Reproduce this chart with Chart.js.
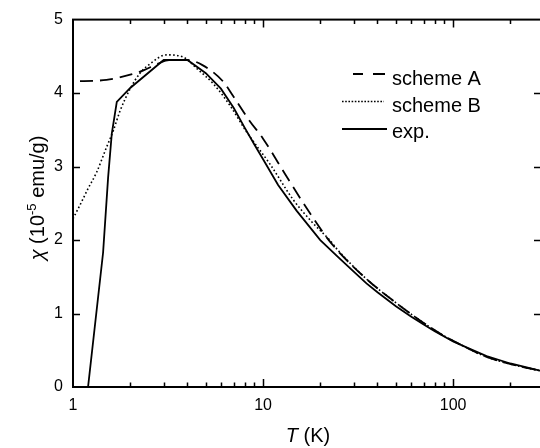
<!DOCTYPE html>
<html>
<head>
<meta charset="utf-8">
<script src="https://cdn.jsdelivr.net/npm/chart.js@4/dist/chart.umd.min.js"></script>
<style>
html,body{margin:0;padding:0;background:#fff;overflow:hidden;}
#wrap{width:542px;height:448px;}
</style>
</head>
<body>
<div id="wrap"><canvas id="c" width="542" height="448"></canvas></div>
<script>
// ---- data (temperature in K, susceptibility in 1e-5 emu/g) ----
const tA   = [1, 1.5, 2, 2.35, 2.8, 3.2, 4, 4.8, 6.15, 7, 8.5, 10, 13.4, 17.7, 21.7, 25, 35, 47, 65, 85, 105, 150, 225, 290];
const chiA = [4.16, 4.18, 4.25, 4.31, 4.40, 4.45, 4.45, 4.38, 4.16, 3.95, 3.62, 3.38, 2.85, 2.36, 2.03, 1.84, 1.47, 1.20, 0.93, 0.73, 0.60, 0.41, 0.28, 0.22];

const tB   = [1, 1.1, 1.2, 1.33, 1.5, 1.63, 1.77, 2, 2.25, 2.55, 3.1, 3.8, 4.5, 5.5, 6.7, 8.2, 10.9, 14.4, 18.3, 22.4, 25, 35, 47, 65, 85, 105, 150, 225, 290];
const chiB = [2.29, 2.50, 2.70, 2.92, 3.26, 3.49, 3.76, 4.06, 4.27, 4.40, 4.52, 4.49, 4.33, 4.12, 3.83, 3.47, 3.03, 2.55, 2.23, 2.00, 1.85, 1.47, 1.20, 0.93, 0.73, 0.60, 0.41, 0.28, 0.22];

const tE   = [1.2, 1.44, 1.53, 1.6, 1.7, 2.0, 3.0, 4.0, 5.0, 6.0, 7.0, 8.0, 9.0, 10, 12, 15, 20, 25, 30, 35, 40, 50, 60, 70, 80, 100, 120, 150, 200, 250, 290];
const chiE = [0, 1.83, 2.85, 3.45, 3.88, 4.07, 4.45, 4.45, 4.27, 4.06, 3.80, 3.53, 3.30, 3.10, 2.75, 2.40, 2.00, 1.76, 1.57, 1.41, 1.29, 1.10, 0.96, 0.85, 0.76, 0.62, 0.53, 0.42, 0.32, 0.26, 0.22];

const seriesNames = ['scheme A', 'scheme B', 'exp.'];
const xTickLabels = [1, 10, 100];
const yTickLabels = [0, 1, 2, 3, 4, 5];
const xMin = 1, xMax = 290, yMin = 0, yMax = 5;

const pts = (xs, ys) => xs.map((x, i) => ({x: x, y: ys[i]}));
const FONT = '"Liberation Sans", Arial, Helvetica, sans-serif';

const decor = {
  id: 'decor',
  afterDraw(chart) {
    const ctx = chart.ctx, a = chart.chartArea;
    const xs = chart.scales.x, ys = chart.scales.y;
    ctx.save();
    ctx.strokeStyle = '#000';
    ctx.lineWidth = 2;
    ctx.setLineDash([]);
    ctx.strokeRect(a.left, a.top, a.right - a.left, a.bottom - a.top);
    // x ticks (inward, bottom and top)
    ctx.lineWidth = 1.5;
    ctx.beginPath();
    for (let d = 1; d <= 100; d *= 10) {
      for (let k = 1; k <= 9; k++) {
        const v = k * d;
        if (v <= xMin || v > xMax) continue;
        const px = Math.round(xs.getPixelForValue(v)) + 0.5;
        const len = (k === 1) ? 8 : 4.5;
        ctx.moveTo(px, a.bottom); ctx.lineTo(px, a.bottom - len);
        ctx.moveTo(px, a.top); ctx.lineTo(px, a.top + len);
      }
    }
    // y ticks (inward, left and right)
    yTickLabels.forEach(v => {
      if (v <= yMin || v >= yMax) return;
      const py = Math.round(ys.getPixelForValue(v)) + 0.5;
      ctx.moveTo(a.left, py); ctx.lineTo(a.left + 7, py);
      ctx.moveTo(a.right, py); ctx.lineTo(a.right - 7, py);
    });
    ctx.stroke();

    // legend
    ctx.fillStyle = '#000';
    ctx.font = '20px ' + FONT;
    ctx.textBaseline = 'alphabetic';
    ctx.textAlign = 'left';
    const lx = 392;
    const rows = [85, 112, 138];
    const lineY = [74, 101.5, 129];
    // dashed
    ctx.lineWidth = 1.8;
    ctx.beginPath();
    ctx.moveTo(353, lineY[0]); ctx.lineTo(363, lineY[0]);
    ctx.moveTo(373, lineY[0]); ctx.lineTo(385, lineY[0]);
    ctx.stroke();
    // dotted
    ctx.setLineDash([1.6, 1.6]);
    ctx.lineWidth = 1.6;
    ctx.beginPath();
    ctx.moveTo(342, lineY[1]); ctx.lineTo(384, lineY[1]);
    ctx.stroke();
    ctx.setLineDash([]);
    // solid
    ctx.lineWidth = 1.8;
    ctx.beginPath();
    ctx.moveTo(342, lineY[2]); ctx.lineTo(387, lineY[2]);
    ctx.stroke();
    seriesNames.forEach((n, i) => ctx.fillText(n, lx, rows[i]));

    // x title: T (K)
    ctx.font = 'italic 20px ' + FONT;
    const wT = ctx.measureText('T').width;
    ctx.font = '20px ' + FONT;
    const wK = ctx.measureText(' (K)').width;
    let sx = 308 - (wT + wK) / 2;
    ctx.font = 'italic 20px ' + FONT;
    ctx.fillText('T', sx, 442);
    ctx.font = '20px ' + FONT;
    ctx.fillText(' (K)', sx + wT, 442);

    // y title: χ (10^-5 emu/g)
    ctx.translate(44, 198);
    ctx.rotate(-Math.PI / 2);
    const parts = [
      {t: 'χ', f: 'italic 20px ' + FONT, dy: 0},
      {t: ' (10', f: '20px ' + FONT, dy: 0},
      {t: '-5', f: '13px ' + FONT, dy: -8},
      {t: ' emu/g)', f: '20px ' + FONT, dy: 0}
    ];
    let tot = 0;
    parts.forEach(p => { ctx.font = p.f; p.w = ctx.measureText(p.t).width; tot += p.w; });
    let cx = -tot / 2;
    parts.forEach(p => { ctx.font = p.f; ctx.fillText(p.t, cx, p.dy); cx += p.w; });
    ctx.restore();
  }
};

new Chart(document.getElementById('c'), {
  type: 'scatter',
  data: {
    datasets: [
      {label: seriesNames[0], data: pts(tA, chiA), showLine: true, borderColor: '#000', borderWidth: 1.8,
       borderDash: [13, 7], borderDashOffset: 13, pointRadius: 0, cubicInterpolationMode: 'monotone'},
      {label: seriesNames[1], data: pts(tB, chiB), showLine: true, borderColor: '#000', borderWidth: 1.6,
       borderDash: [1.6, 2.4], pointRadius: 0, cubicInterpolationMode: 'monotone'},
      {label: seriesNames[2], data: pts(tE, chiE), showLine: true, borderColor: '#000', borderWidth: 1.8,
       pointRadius: 0, tension: 0}
    ]
  },
  options: {
    responsive: false,
    animation: false,
    devicePixelRatio: 1,
    layout: {padding: {top: 13, right: 1, left: 0, bottom: 0}},
    plugins: {legend: {display: false}, tooltip: {enabled: false}},
    scales: {
      x: {
        type: 'logarithmic', min: xMin, max: xMax, position: 'bottom',
        grid: {display: false, drawTicks: false}, border: {display: false},
        afterBuildTicks: s => { s.ticks = xTickLabels.map(v => ({value: v})); },
        afterFit: s => { s.height = 61; },
        ticks: {autoSkip: false, maxRotation: 0, padding: 9, color: '#000',
                font: {size: 16, family: FONT}, callback: v => String(v)}
      },
      y: {
        min: yMin, max: yMax,
        grid: {display: false, drawTicks: false}, border: {display: false},
        afterBuildTicks: s => { s.ticks = yTickLabels.map(v => ({value: v})); },
        afterFit: s => { s.width = 73; },
        ticks: {padding: 10, color: '#000', font: {size: 16, family: FONT}, callback: v => String(v)}
      }
    }
  },
  plugins: [decor]
});
</script>
</body>
</html>
